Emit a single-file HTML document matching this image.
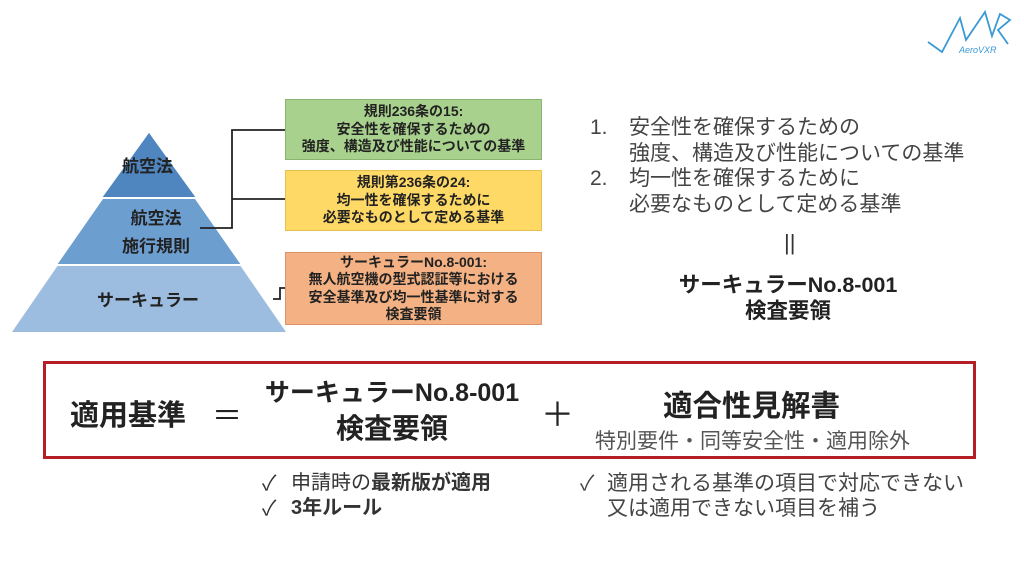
<!DOCTYPE html>
<html><head><meta charset="utf-8"><style>
body{margin:0;width:1024px;height:576px;background:#fff;position:relative;overflow:hidden;font-family:"Liberation Sans","Noto Sans CJK JP",sans-serif;}
.a{position:absolute;white-space:nowrap;}
.box{position:absolute;text-align:center;font-weight:bold;font-size:14px;line-height:17.5px;color:#222;box-sizing:border-box;display:flex;flex-direction:column;justify-content:center;}
</style></head><body>
<svg class="a" style="left:0;top:0" width="1024" height="576">
<polygon points="149,133 12,332 286,332" fill="#9dbde0"/>
<polygon points="149,133 57,265 241,265" fill="#6c9ed0"/>
<polygon points="149,133 102,198 196,198" fill="#4f86c0"/>
<line x1="57" y1="265" x2="241" y2="265" stroke="#fff" stroke-width="2"/>
<line x1="102" y1="198" x2="196" y2="198" stroke="#fff" stroke-width="2"/>
<polyline points="200,228 232,228 232,130 285,130" fill="none" stroke="#222" stroke-width="1.8"/>
<line x1="232" y1="199" x2="285" y2="199" stroke="#222" stroke-width="1.8"/>
<polyline points="273,299 280,299 280,288 285,288" fill="none" stroke="#222" stroke-width="1.8"/>
<g stroke="#3a9ad6" stroke-width="1.8" fill="none"><polyline points="928,42 942,52 960,18 966,40 985,12 992,36 1000,14 1010,20 998,30 1008,44"/></g>
</svg>
<div class="a" style="top:45px;left:959px;font-size:9px;color:#3a9ad6;font-style:italic">AeroVXR</div>
<div class="a" style="left:122px;top:152px;font-weight:bold;font-size:17px;color:#222">航空法</div>
<div class="a" style="left:122px;top:205px;font-weight:bold;font-size:17px;color:#222;line-height:28px;text-align:center">航空法<br>施行規則</div>
<div class="a" style="left:97px;top:286px;font-weight:bold;font-size:17px;color:#222">サーキュラー</div>
<div class="box" style="left:285px;top:99px;width:257px;height:61px;background:#a9d18e;border:1px solid #8ab472">規則236条の15:<br>安全性を確保するための<br>強度、構造及び性能についての基準</div>
<div class="box" style="left:285px;top:170px;width:257px;height:61px;background:#ffd966;border:1px solid #e6c04d">規則第236条の24:<br>均一性を確保するために<br>必要なものとして定める基準</div>
<div class="box" style="left:285px;top:252px;width:257px;height:73px;background:#f4b183;border:1px solid #d9946a">サーキュラーNo.8-001:<br>無人航空機の型式認証等における<br>安全基準及び均一性基準に対する<br>検査要領</div>
<div class="a" style="left:590px;top:115px;font-size:21px;line-height:25.5px;color:#444">1.<br><br>2.</div>
<div class="a" style="left:629px;top:115px;font-size:21px;line-height:25.5px;color:#444">安全性を確保するための<br>強度、構造及び性能についての基準<br>均一性を確保するために<br>必要なものとして定める基準</div>
<div class="a" style="left:784px;top:230px;font-size:22px;color:#333">||</div>
<div class="a" style="left:668px;top:272px;width:240px;text-align:center;font-size:21.5px;line-height:26px;font-weight:bold;color:#222">サーキュラーNo.8-001<br>検査要領</div>
<div class="a" style="left:43px;top:361px;width:933px;height:98px;border:3px solid #b31f24;box-sizing:border-box"></div>
<div class="a" style="left:70px;top:392px;font-size:29px;font-weight:bold;color:#222">適用基準</div>
<div class="a" style="left:212px;top:391px;font-size:30px;color:#222">＝</div>
<div class="a" style="left:248px;top:375px;width:288px;text-align:center;font-size:25px;line-height:36px;font-weight:bold;color:#222">サーキュラーNo.8-001<br><span style="font-size:28px">検査要領</span></div>
<div class="a" style="left:541px;top:388px;font-size:33px;color:#222">＋</div>
<div class="a" style="left:663px;top:383px;font-size:29.5px;font-weight:bold;color:#222">適合性見解書</div>
<div class="a" style="left:595px;top:425px;font-size:21px;color:#555">特別要件・同等安全性・適用除外</div>
<div class="a" style="left:262px;top:471px;font-size:21px;line-height:25px;color:#333">✓</div>
<div class="a" style="left:262px;top:496px;font-size:21px;line-height:25px;color:#333">✓</div>
<div class="a" style="left:291px;top:471px;font-size:20px;line-height:25px;color:#333">申請時の<b>最新版が適用</b><br><b>3年ルール</b></div>
<div class="a" style="left:580px;top:471px;font-size:21px;line-height:25px;color:#444">✓</div>
<div class="a" style="left:607px;top:471px;font-size:21px;line-height:25px;color:#444">適用される基準の項目で対応できない<br>又は適用できない項目を補う</div>
</body></html>
